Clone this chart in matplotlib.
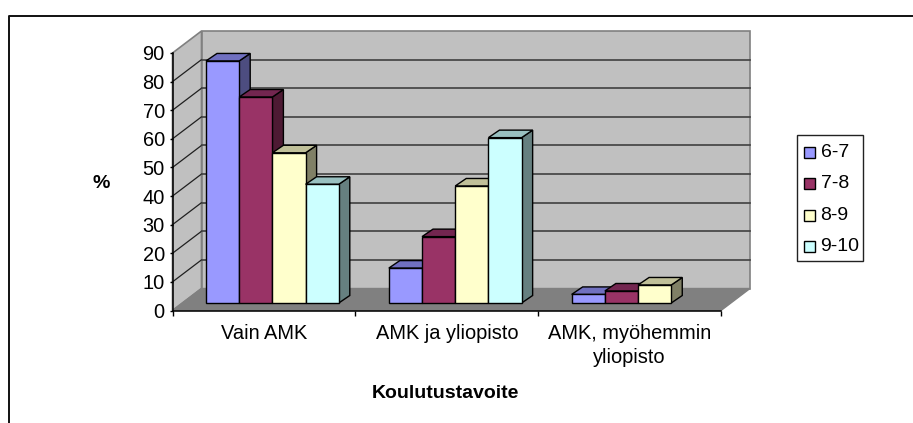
import matplotlib
matplotlib.use('Agg')
import matplotlib.pyplot as plt
from matplotlib.patches import Polygon, Rectangle

plt.rcParams['font.family'] = ['Liberation Sans', 'DejaVu Sans']

W, H = 913, 423

categories = ['Vain AMK', 'AMK ja yliopisto', 'AMK, myöhemmin\nyliopisto']
series = ['6-7', '7-8', '8-9', '9-10']
v67 = [84.6, 12.2, 3]
v78 = [72, 23.2, 4.2]
v89 = [52.5, 40.9, 6.3]
v910 = [41.5, 57.8, None]
yticks = [0, 10, 20, 30, 40, 50, 60, 70, 80, 90]

face = ['#9999ff', '#993366', '#ffffcc', '#ccffff']
top = ['#7070c0', '#732650', '#c0c099', '#99c0c0']
side = ['#4d4d80', '#4d1a33', '#808066', '#668080']


def mix_y(py):
    return 1 - py / H


fig = plt.figure(figsize=(W / 100, H / 100), dpi=100)
fig.patch.set_facecolor('white')

# chart frame
fig.add_artist(plt.Line2D([8.5 / W, 8.5 / W, 1], [0, mix_y(16), mix_y(16)], color='#111111', lw=1.4))

# front plane of the 3d box, in pixels
x0, x1 = 172.5, 721
y0, y1 = 310.5, 53
ax = fig.add_axes([x0 / W, mix_y(y0), (x1 - x0) / W, (y0 - y1) / H])
ax.set_xlim(0, 3)
ax.set_ylim(0, 90)
ax.patch.set_visible(False)

# depth of box and bars in data units
dx = 29 / ((x1 - x0) / 3)
dy = 22 / ((y0 - y1) / 90)
bx = 11 / ((x1 - x0) / 3)
by = 7.5 / ((y0 - y1) / 90)
base = 7.5 / ((y0 - y1) / 90)
bar_w = 33.2 / ((x1 - x0) / 3)
start = 33.5 / ((x1 - x0) / 3)


def poly(pts, fc, ec='black', lw=1.0, z=2):
    ax.add_patch(Polygon(pts, closed=True, fc=fc, ec=ec, lw=lw, zorder=z, clip_on=False, joinstyle='miter'))


# walls and floor
poly([(0, 0), (dx, dy), (dx, 90 + dy), (0, 90)], '#c0c0c0', '#808080', 1.2, 1)
poly([(dx, dy), (3 + dx, dy), (3 + dx, 90 + dy), (dx, 90 + dy)], '#c0c0c0', '#808080', 1.2, 1)
poly([(0, 0), (3, 0), (3 + dx, dy), (dx, dy)], '#808080', '#808080', 1.0, 1)

# gridlines
for t in yticks[1:-1]:
    ax.plot([0, dx], [t, t + dy], color='#202020', lw=0.9, zorder=1.5, clip_on=False)
    ax.plot([dx, 3 + dx], [t + dy, t + dy], color='#404040', lw=1.2, zorder=1.5, clip_on=False)

all_vals = [v67, v78, v89, v910]
for c in range(len(categories)):
    for s in range(len(series)):
        v = all_vals[s][c]
        if v is None:
            continue
        xl = c + start + s * bar_w
        xr = xl + bar_w
        y_b = base
        y_t = base + v
        z = 3 + c * 10 + s
        poly([(xr, y_b), (xr + bx, y_b + by), (xr + bx, y_t + by), (xr, y_t)], side[s], z=z)
        poly([(xl, y_t), (xr, y_t), (xr + bx, y_t + by), (xl + bx, y_t + by)], top[s], z=z)
        poly([(xl, y_b), (xr, y_b), (xr, y_t), (xl, y_t)], face[s], z=z)

ax.set_yticks(yticks)
ax.set_xticks([0, 1, 2, 3])
ax.set_xticklabels([])
ax.set_xticks([0.5, 1.5, 2.5], minor=True)
ax.set_xticklabels(categories, minor=True, fontsize=14.4, linespacing=1.3)
ax.tick_params(axis='x', which='minor', length=0, pad=9.8)
ax.tick_params(axis='x', which='major', length=3.6, width=1, direction='out')
ax.tick_params(axis='y', length=2, width=1, labelsize=14.4, pad=3.5)
for side_name in ['top', 'right']:
    ax.spines[side_name].set_visible(False)
for side_name in ['left', 'bottom']:
    ax.spines[side_name].set_linewidth(1.1)
    ax.spines[side_name].set_zorder(2.5)

fig.text(101.5 / W, mix_y(183.5), '%', fontsize=14, fontweight='bold', ha='center', va='center')
fig.text(445 / W, mix_y(393.5), 'Koulutustavoite', fontsize=14, fontweight='bold', ha='center', va='center')

# legend box
lx0, lx1, ly0, ly1 = 797, 863, 135, 261
fig.add_artist(Rectangle((lx0 / W, mix_y(ly1)), (lx1 - lx0) / W, (ly1 - ly0) / H, transform=fig.transFigure,
                         fc='white', ec='#222222', lw=1.0))
for i, name in enumerate(series):
    py = 152.5 + i * 31.3
    fig.add_artist(Rectangle((804 / W, mix_y(py + 5.5)), 11 / W, 11 / H, transform=fig.transFigure,
                             fc=face[i], ec='black', lw=1.0))
    fig.text(820.5 / W, mix_y(py), name, fontsize=14, ha='left', va='center')

fig.savefig('out.png', dpi=100)
